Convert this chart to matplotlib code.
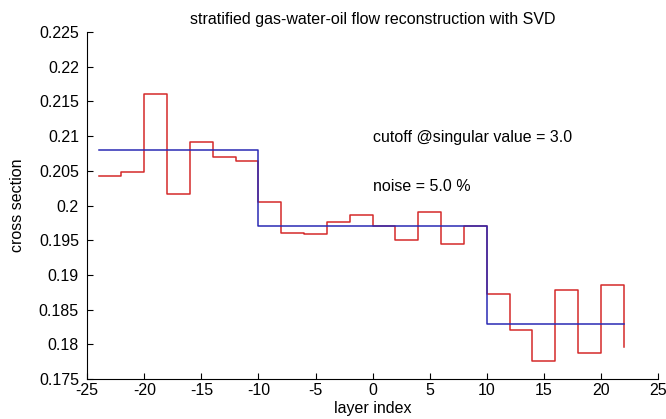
import numpy as np
import matplotlib
matplotlib.use("Agg")
from matplotlib import rcParams
rcParams["font.family"] = ["Liberation Sans", "DejaVu Sans"]
rcParams["axes.unicode_minus"] = False
import matplotlib.pyplot as plt

# layer positions (stairs start points)
layers = np.arange(-24, 23, 2)

# reconstructed cross section (noisy, red)
recon = [0.2042, 0.2048, 0.2161, 0.2016, 0.2091, 0.2070, 0.2064, 0.2005,
         0.1961, 0.1959, 0.1976, 0.1987, 0.1970, 0.1951, 0.1991, 0.1944,
         0.1970, 0.1873, 0.1821, 0.1776, 0.1879, 0.1788, 0.1886, 0.1796]

# true cross section (blue)
true_cs = [0.208] * 7 + [0.197] * 10 + [0.183] * 7

fs = 11.5

fig = plt.figure(figsize=(6.66, 4.19), dpi=100)
ax = fig.add_axes([0.131, 0.095, 0.857, 0.829])

ax.step(layers, recon, where="post", color="#d42a2a", lw=1.1)
ax.step(layers, true_cs, where="post", color="#2a2ab4", lw=1.1)

ax.set_xlim(-25, 25)
ax.set_ylim(0.175, 0.225)
ax.set_xticks(np.arange(-25, 26, 5))
ax.set_yticks(np.arange(0.175, 0.2251, 0.005))
ax.set_yticklabels(["0.175", "0.18", "0.185", "0.19", "0.195", "0.2",
                    "0.205", "0.21", "0.215", "0.22", "0.225"])
ax.tick_params(direction="in", length=4, labelsize=fs)
ax.tick_params(axis="y", pad=6)
ax.tick_params(axis="x", pad=3)

ax.spines["right"].set_visible(False)
ax.spines["top"].set_visible(False)

ax.text(0.0, 0.2098, "cutoff @singular value = 3.0", fontsize=fs,
        va="center")
ax.text(0.0, 0.2028, "noise = 5.0 %", fontsize=fs, va="center")

ax.set_title("stratified gas-water-oil flow reconstruction with SVD",
             fontsize=fs, pad=6)
ax.set_xlabel("layer index", fontsize=fs, labelpad=2)
ax.set_ylabel("cross section", fontsize=fs, labelpad=10)

fig.savefig("out.png", dpi=100)
